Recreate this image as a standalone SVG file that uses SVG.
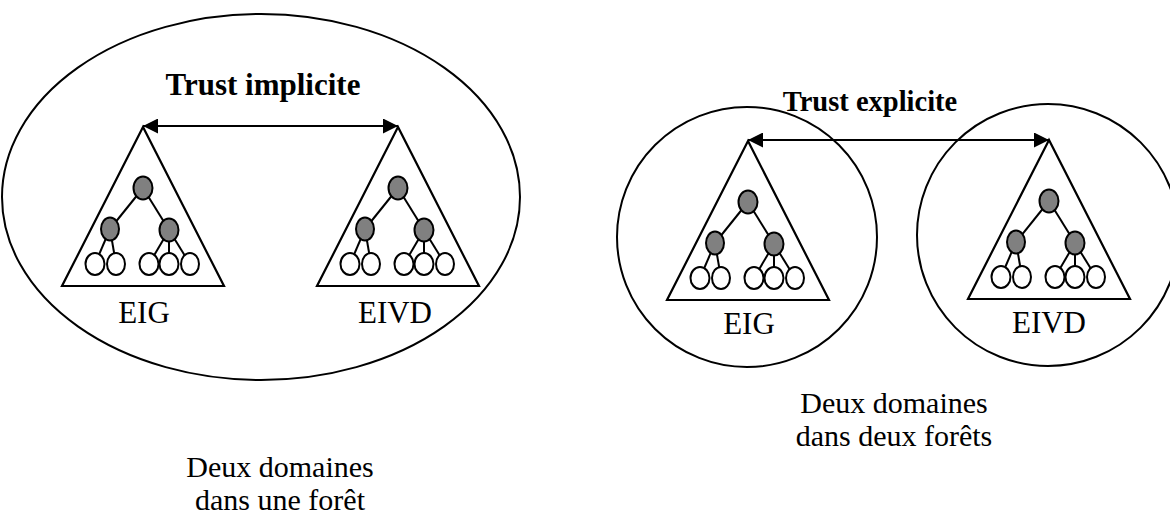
<svg xmlns="http://www.w3.org/2000/svg" width="1170" height="520" viewBox="0 0 1170 520">
<defs>
<style>
.bg{fill:#ffffff}
.outline{fill:none;stroke:#000;stroke-width:2}
.tri{fill:none;stroke:#000;stroke-width:2.2;stroke-linejoin:miter}
.edge{stroke:#000;stroke-width:2}
.inner{fill:#808080;stroke:#000;stroke-width:2}
.leaf{fill:#ffffff;stroke:#000;stroke-width:2}
.conn{stroke:#000;stroke-width:2;fill:none}
.lbl{font-family:"Liberation Serif","Times New Roman",serif;fill:#000;text-anchor:middle}
.title{font-weight:bold}
</style>
<marker id="ah" viewBox="0 0 15 15" refX="15" refY="7.5" markerWidth="15" markerHeight="15" markerUnits="userSpaceOnUse" orient="auto-start-reverse">
<path d="M0,0 L15,7.5 L0,15 Z" fill="#000"/>
</marker>
<g id="tree">
<path class="tri" d="M0,0 L-81,159 L81,159 Z"/>
<line class="edge" x1="0" y1="61" x2="-33" y2="102"/>
<line class="edge" x1="0" y1="61" x2="26" y2="103"/>
<line class="edge" x1="-33" y1="102" x2="-48" y2="137"/>
<line class="edge" x1="-33" y1="102" x2="-27" y2="137"/>
<line class="edge" x1="26" y1="103" x2="6" y2="137"/>
<line class="edge" x1="26" y1="103" x2="26" y2="137"/>
<line class="edge" x1="26" y1="103" x2="47" y2="137"/>
<ellipse class="inner" cx="0" cy="61" rx="9.5" ry="11.5"/>
<ellipse class="inner" cx="-33" cy="102" rx="9" ry="11.5"/>
<ellipse class="inner" cx="26" cy="103" rx="9.5" ry="11.5"/>
<ellipse class="leaf" cx="-48" cy="137" rx="9.5" ry="11"/>
<ellipse class="leaf" cx="-27" cy="137" rx="9" ry="11"/>
<ellipse class="leaf" cx="6" cy="137" rx="9.5" ry="11"/>
<ellipse class="leaf" cx="26" cy="137" rx="9.5" ry="11"/>
<ellipse class="leaf" cx="47" cy="137" rx="9" ry="11"/>
</g>
</defs>
<rect class="bg" x="0" y="0" width="1170" height="520"/>

<g id="forest-one">
<ellipse class="outline" cx="261" cy="197" rx="259" ry="183"/>
</g>
<g id="forest-eig">
<circle class="outline" cx="747" cy="237" r="130"/>
</g>
<g id="forest-eivd">
<circle class="outline" cx="1048" cy="235" r="131"/>
</g>

<g id="domain-eig-1">
<use href="#tree" x="143" y="127"/>
<text class="lbl" x="144" y="323" font-size="31">EIG</text>
</g>
<g id="domain-eivd-1">
<use href="#tree" x="398" y="127"/>
<text class="lbl" x="395" y="323" font-size="31">EIVD</text>
</g>
<g id="domain-eig-2">
<use href="#tree" x="748" y="141"/>
<text class="lbl" x="749" y="334" font-size="31">EIG</text>
</g>
<g id="domain-eivd-2">
<use href="#tree" x="1049" y="140"/>
<text class="lbl" x="1049" y="333" font-size="31">EIVD</text>
</g>

<g id="connectors">
<line class="conn" x1="143" y1="126" x2="398" y2="126" marker-start="url(#ah)" marker-end="url(#ah)"/>
<line class="conn" x1="748" y1="140" x2="1049" y2="140" marker-start="url(#ah)" marker-end="url(#ah)"/>
</g>

<g id="labels">
<text class="lbl title" x="263" y="95" font-size="31">Trust implicite</text>
<text class="lbl title" x="870" y="111" font-size="28.5">Trust explicite</text>
<text class="lbl" x="280" y="477" font-size="30">Deux domaines</text>
<text class="lbl" x="280" y="510" font-size="30">dans une forêt</text>
<text class="lbl" x="894" y="413" font-size="30">Deux domaines</text>
<text class="lbl" x="894" y="446" font-size="30">dans deux forêts</text>
</g>
</svg>
